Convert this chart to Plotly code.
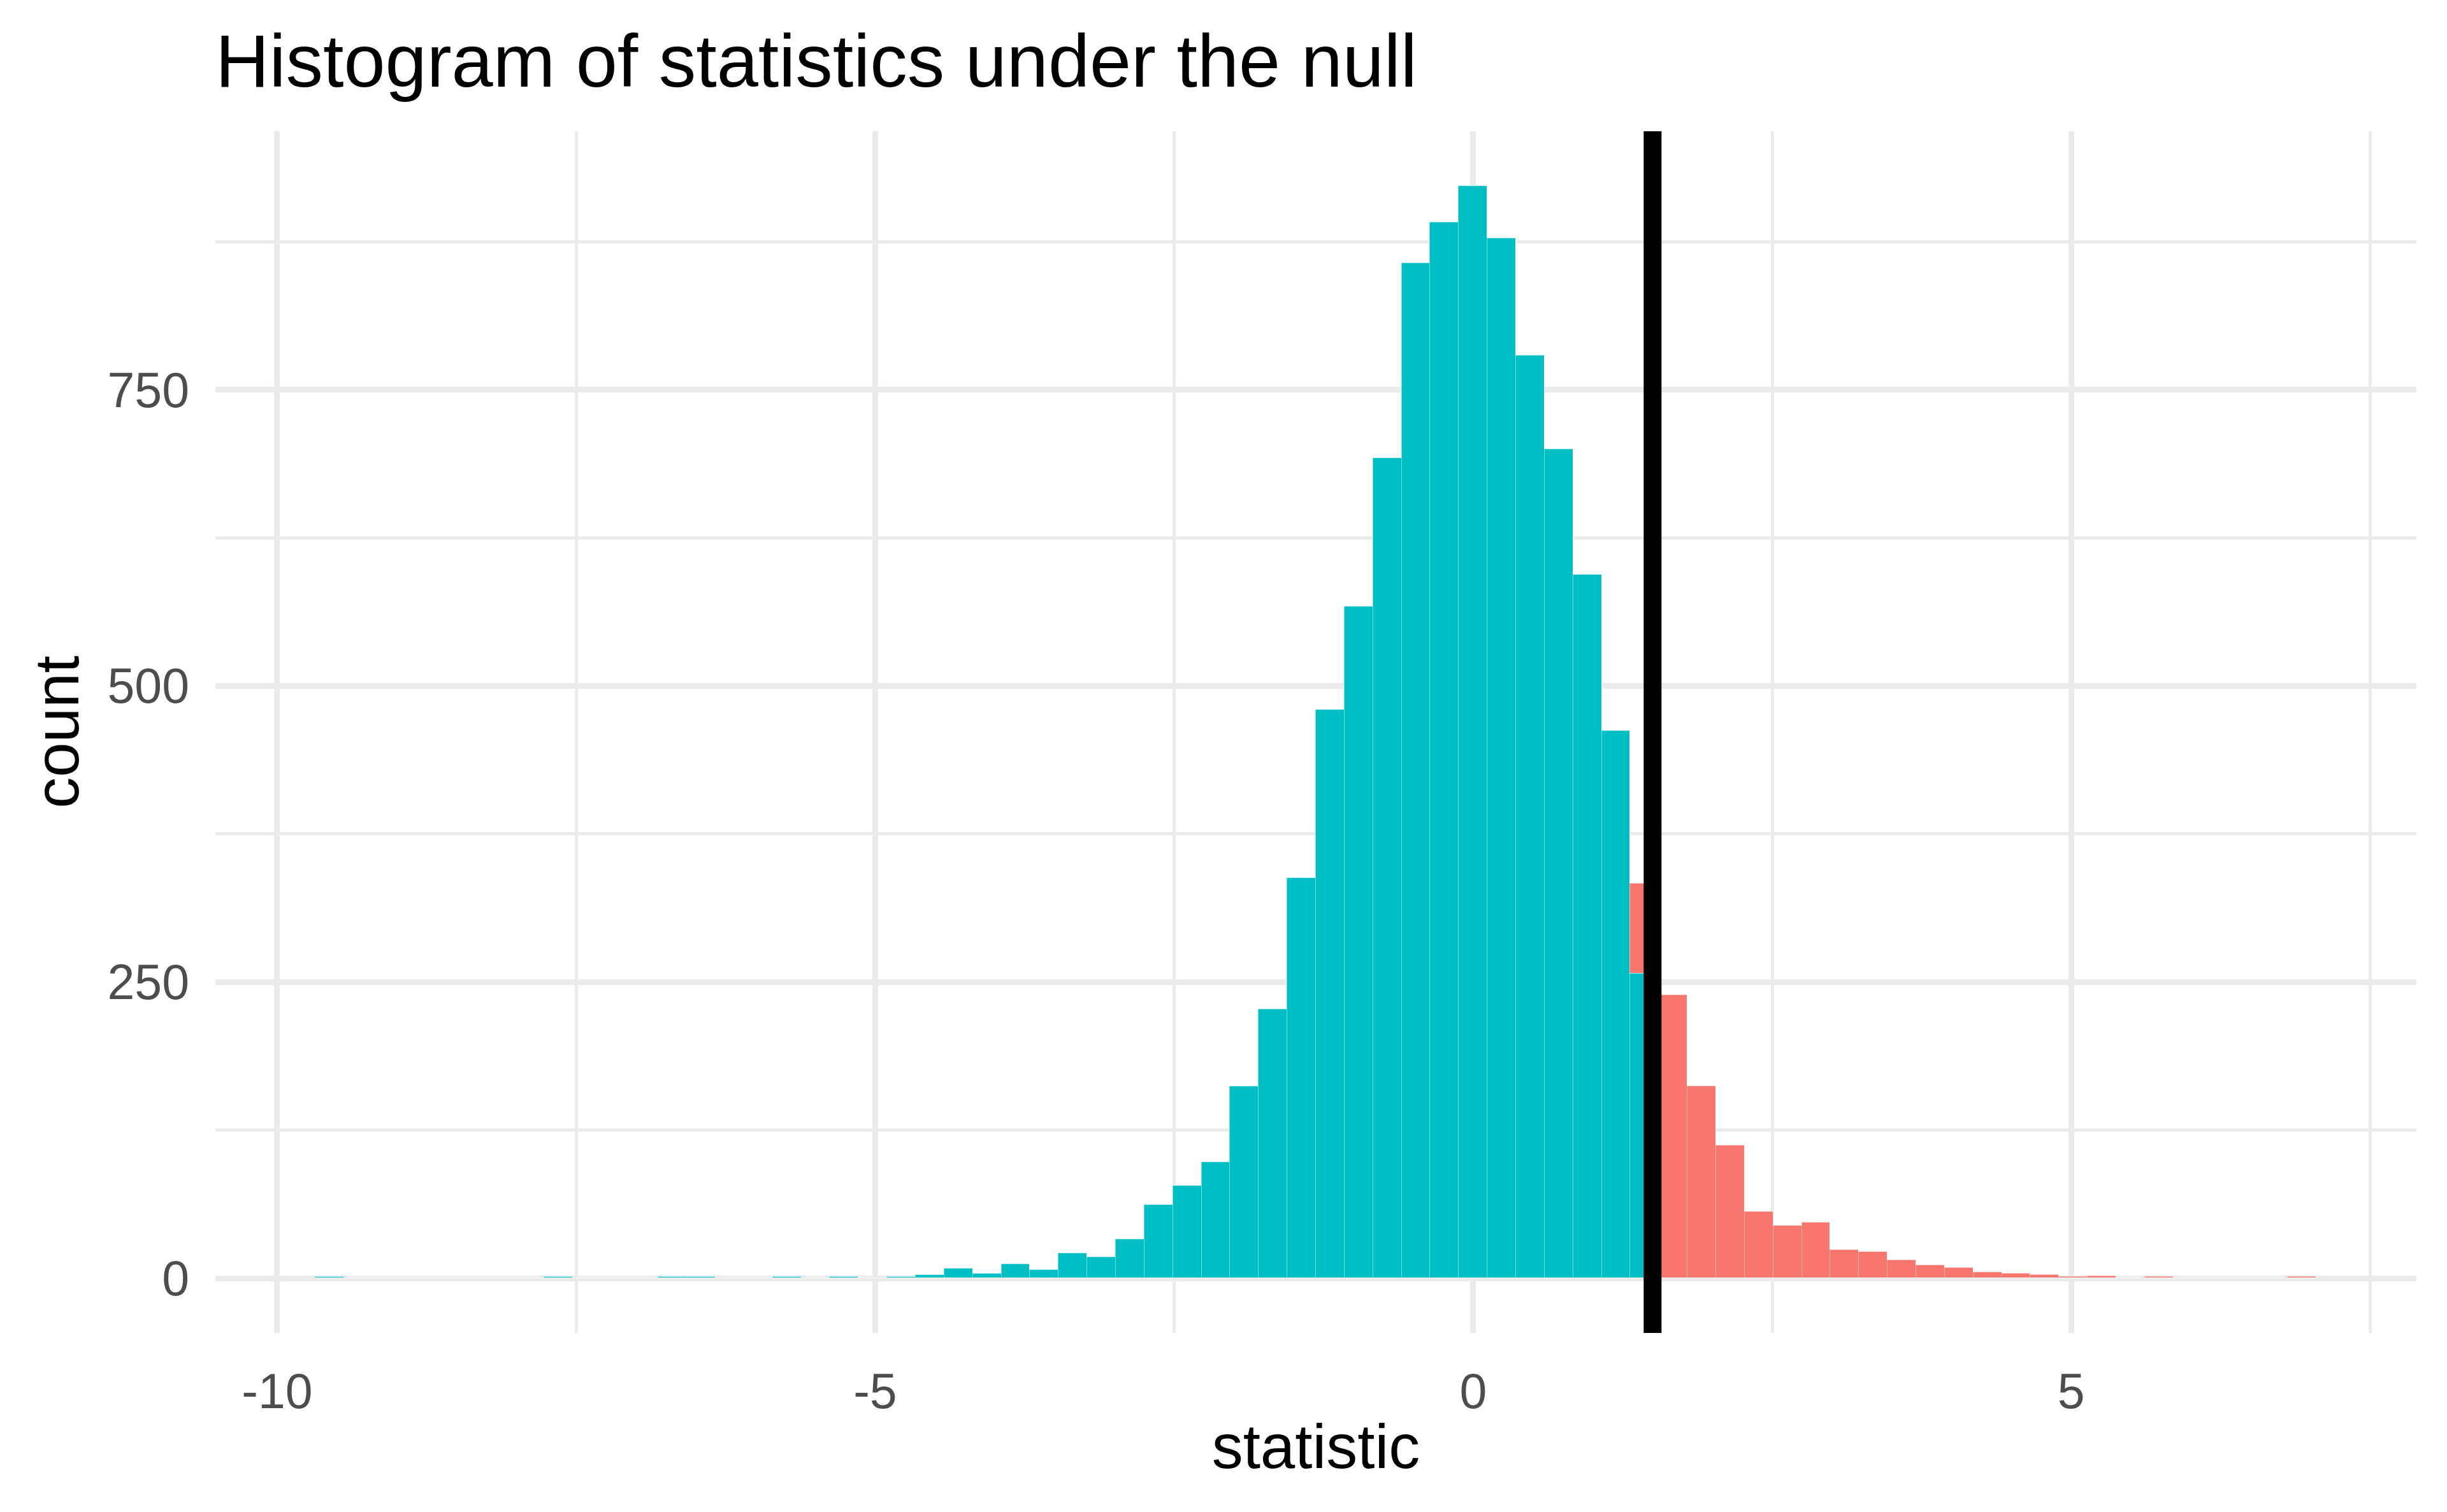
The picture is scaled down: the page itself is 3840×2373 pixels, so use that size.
import plotly.graph_objects as go

# Histogram bins (left edge of first bin and bin width)
bin_start = -9.68
bin_width = 0.239

# Counts per bin, split at the observed statistic
teal_counts = [1, 0, 0, 0, 0, 0, 0, 0, 1, 0,
               0, 0, 1, 1, 0, 0, 1, 0, 1, 0,
               1, 3, 8, 4, 12, 7, 21, 18, 33, 62,
               78, 98, 162, 227, 338, 480, 567, 692, 857, 891,
               922, 878, 779, 700, 594, 462, 257, 0, 0, 0,
               0, 0, 0, 0, 0, 0, 0, 0, 0, 0,
               0, 0, 0, 0, 0, 0, 0, 0, 0, 0]
red_counts = [0, 0, 0, 0, 0, 0, 0, 0, 0, 0,
              0, 0, 0, 0, 0, 0, 0, 0, 0, 0,
              0, 0, 0, 0, 0, 0, 0, 0, 0, 0,
              0, 0, 0, 0, 0, 0, 0, 0, 0, 0,
              0, 0, 0, 0, 0, 0, 76, 239, 162, 112,
              56, 44, 47, 24, 22, 15, 11, 9, 5, 4,
              3, 1, 2, 0, 1, 0, 0, 0, 0, 1]
obs_stat = 1.5

x_ticks = [-10, -5, 0, 5]
x_labels = ["-10", "-5", "0", "5"]
y_ticks = [0, 250, 500, 750]

centers = [bin_start + bin_width * (i + 0.5) for i in range(len(teal_counts))]

fig = go.Figure()
fig.add_trace(go.Bar(x=centers, y=teal_counts, width=bin_width,
                     marker=dict(color="#00BFC4", line=dict(color="rgba(255,255,255,0.45)", width=1.5)),
                     showlegend=False))
fig.add_trace(go.Bar(x=centers, y=red_counts, width=bin_width,
                     marker=dict(color="#F8766D", line=dict(color="rgba(255,255,255,0.45)", width=1.5)),
                     showlegend=False))

# observed statistic
fig.add_shape(type="line", x0=obs_stat, x1=obs_stat, xref="x", y0=0, y1=1, yref="y domain",
              line=dict(color="black", width=28))

x_lo = bin_start
x_hi = bin_start + bin_width * len(teal_counts)
pad = (x_hi - x_lo) * 0.05
y_max = max(t + r for t, r in zip(teal_counts, red_counts))

# page body adds an 8px margin, so the figure is 8px smaller
fig.update_layout(
    width=3832, height=2365,
    barmode="stack", bargap=0,
    plot_bgcolor="white", paper_bgcolor="white",
    font=dict(family="Liberation Sans, Arial, sans-serif", color="black"),
    margin=dict(l=330, r=48, t=198, b=281),
    title=dict(text="Histogram of statistics under the null", x=0, xref="paper", xanchor="left",
               y=1 - 128 / 2365, yref="container", yanchor="bottom",
               font=dict(size=117, color="black")),
)
fig.update_xaxes(range=[x_lo - pad, x_hi + pad], tickvals=x_ticks, ticktext=x_labels, ticks="",
                 showline=False, zeroline=False,
                 showgrid=True, gridcolor="#EBEBEB", gridwidth=9,
                 minor=dict(dtick=2.5, tick0=0, showgrid=True, gridcolor="#EBEBEB", gridwidth=4.5),
                 tickfont=dict(size=77, color="#4D4D4D"), ticklabelstandoff=40,
                 title=dict(text="statistic", font=dict(size=98, color="black"), standoff=10))
fig.update_yaxes(range=[-y_max * 0.05, y_max * 1.05], tickvals=y_ticks, ticks="", showline=False, zeroline=False,
                 showgrid=True, gridcolor="#EBEBEB", gridwidth=9,
                 minor=dict(dtick=125, tick0=0, showgrid=True, gridcolor="#EBEBEB", gridwidth=4.5),
                 tickfont=dict(size=77, color="#4D4D4D"), ticklabelstandoff=40,
                 title=dict(text="count", font=dict(size=98, color="black"), standoff=12))

fig.write_html("out.html")
